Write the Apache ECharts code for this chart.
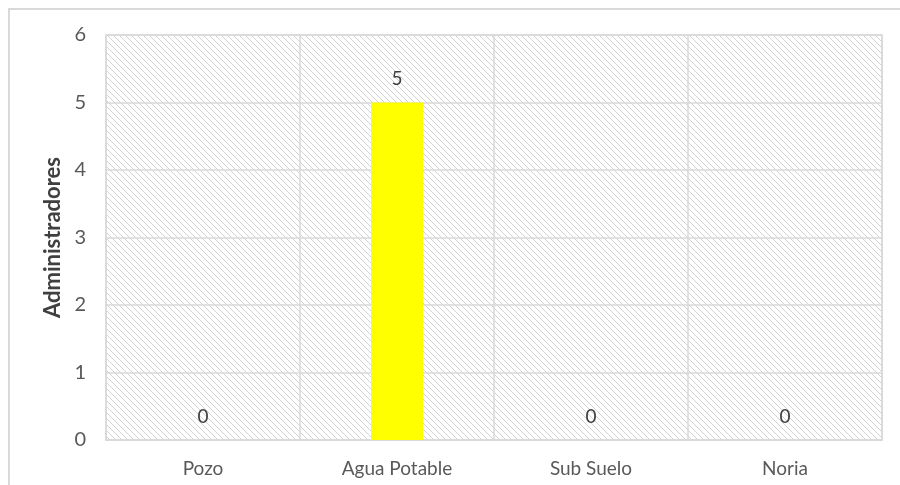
<!DOCTYPE html>
<html>
<head>
<meta charset="utf-8">
<script src="https://cdn.jsdelivr.net/npm/echarts@6/dist/echarts.min.js"></script>
<style>
  html, body { margin: 0; padding: 0; background: #fff; }
  #frame {
    position: absolute; left: 8px; top: 8px; width: 900px; height: 485px;
    border-left: 2px solid #d9d9d9; border-top: 2px solid #d9d9d9;
  }
  #chart { position: absolute; left: 0; top: 0; width: 900px; height: 485px; }
</style>
</head>
<body>
<div id="frame"></div>
<div id="chart"></div>
<script>
const categories = ["Pozo", "Agua Potable", "Sub Suelo", "Noria"];
const values = [0, 5, 0, 0];
const yTicks = [0, 1, 2, 3, 4, 5, 6];

// diagonal hatch for the plot background
function hatch() {
  const s = 6;
  const c = document.createElement("canvas");
  c.width = s;
  c.height = s;
  const ctx = c.getContext("2d");
  ctx.strokeStyle = "#d2d2d2";
  ctx.lineWidth = 1;
  ctx.beginPath();
  ctx.moveTo(-1, -1);
  ctx.lineTo(s + 1, s + 1);
  ctx.moveTo(-1, s - 1);
  ctx.lineTo(1, s + 1);
  ctx.moveTo(s - 1, -1);
  ctx.lineTo(s + 1, 1);
  ctx.stroke();
  return c;
}

const myChart = echarts.init(document.getElementById("chart"));
myChart.setOption({
  animation: false,
  textStyle: { fontFamily: "Lato" },
  grid: {
    left: 106,
    right: 18,
    top: 35,
    bottom: 45,
    show: true,
    backgroundColor: { image: hatch(), repeat: "repeat" },
    borderColor: "#d9d9d9",
    borderWidth: 1.5
  },
  xAxis: {
    type: "category",
    data: categories,
    axisLine: { show: true, lineStyle: { color: "#d9d9d9", width: 1.5 } },
    axisTick: { show: false },
    axisLabel: { color: "#595959", fontSize: 19, margin: 19 },
    splitLine: { show: true, lineStyle: { color: "#d9d9d9", width: 1.5 } }
  },
  yAxis: {
    type: "value",
    min: yTicks[0],
    max: yTicks[yTicks.length - 1],
    interval: 1,
    name: "Administradores",
    nameLocation: "middle",
    nameGap: 37,
    nameTextStyle: { color: "#404040", fontSize: 22, fontWeight: "bold" },
    axisLine: { show: false },
    axisTick: { show: false },
    axisLabel: { color: "#595959", fontSize: 20, margin: 20 },
    splitLine: { show: true, lineStyle: { color: "#d9d9d9", width: 1.5 } }
  },
  series: [
    {
      type: "bar",
      data: values,
      barWidth: 52,
      itemStyle: { color: "#ffff00" },
      label: {
        show: true,
        position: "top",
        distance: 14,
        color: "#404040",
        fontSize: 19
      }
    }
  ]
});
</script>
</body>
</html>
